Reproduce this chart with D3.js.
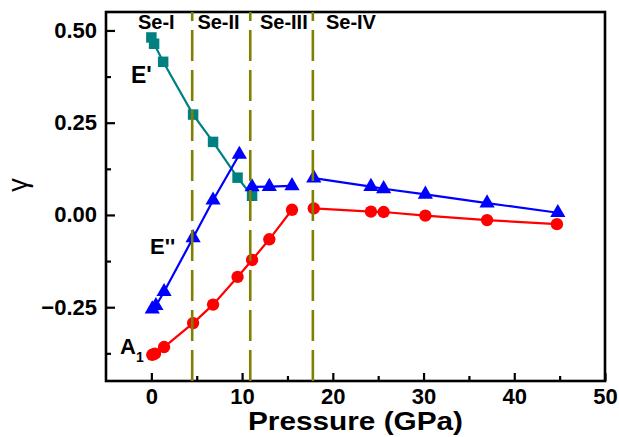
<!DOCTYPE html>
<html>
<head>
<meta charset="utf-8">
<script src="https://cdn.jsdelivr.net/npm/d3@7"></script>
<style>
  html, body { margin: 0; padding: 0; background: #fff; }
  svg { display: block; font-family: Arial, "Liberation Sans", sans-serif; }
</style>
</head>
<body>
<svg id="chart" width="619" height="437"></svg>
<script>
// E' mode (teal squares)
const pressureE1 = [0.0, 0.3, 1.3, 4.6, 6.8, 9.5, 11.1];
const gammaE1 = [0.481, 0.464, 0.415, 0.272, 0.198, 0.101, 0.052];
const segE1 = [0, 0, 0, 0, 0, 0, 0];

// E'' mode (blue triangles)
const pressureE2 = [0.1, 0.5, 1.4, 4.6, 6.8, 9.7, 11.1, 13.0, 15.5, 17.9, 24.2, 25.6, 30.2, 37.0, 44.8];
const gammaE2 = [-0.255, -0.246, -0.208, -0.062, 0.040, 0.164, 0.076, 0.077, 0.079, 0.100, 0.077, 0.071, 0.056, 0.032, 0.006];
const segE2 = [0, 0, 0, 0, 0, 0, 1, 1, 1, 2, 2, 2, 2, 2, 2];

// A1 mode (red circles)
const pressureA1 = [0.1, 0.4, 1.4, 4.6, 6.8, 9.5, 11.1, 13.0, 15.5, 17.9, 24.2, 25.6, 30.2, 37.0, 44.7];
const gammaA1 = [-0.379, -0.376, -0.358, -0.293, -0.243, -0.168, -0.122, -0.066, 0.014, 0.018, 0.009, 0.008, -0.002, -0.014, -0.025];
const segA1 = [0, 0, 0, 0, 0, 0, 0, 0, 0, 1, 1, 1, 1, 1, 1];

// phase boundaries and phase names
const boundaries = [4.5, 10.9, 17.8];
const phaseNames = ['Se-I', 'Se-II', 'Se-III', 'Se-IV'];
const phaseLabelAt = [0.55, 7.4, 14.6, 22.0];

const xTicks = [0, 10, 20, 30, 40, 50];
const xMinor = [5, 15, 25, 35, 45];
const yTicks = [-0.25, 0, 0.25, 0.5];
const yMinor = [-0.375, -0.125, 0.125, 0.375];

const svg = d3.select('#chart');
const m = { left: 106, right: 605, top: 12, bottom: 381 };

const x = d3.scaleLinear().domain([-5, 50]).range([m.left, m.right]);
const y = d3.scaleLinear().domain([-0.45, 0.55]).range([m.bottom, m.top]);

// axes (ticks pointing inward)
svg.append('g').attr('transform', `translate(0,${m.bottom})`)
  .call(d3.axisBottom(x).tickValues(xTicks).tickSize(-8).tickSizeOuter(0).tickPadding(7).tickFormat(d3.format('d')));
svg.append('g').attr('transform', `translate(0,${m.bottom})`)
  .call(d3.axisBottom(x).tickValues(xMinor).tickSize(-5).tickSizeOuter(0).tickFormat(''));
svg.append('g').attr('transform', `translate(${m.left},0)`)
  .call(d3.axisLeft(y).tickValues(yTicks).tickSize(-9).tickSizeOuter(0).tickPadding(9).tickFormat(d3.format('.2f')));
svg.append('g').attr('transform', `translate(${m.left},0)`)
  .call(d3.axisLeft(y).tickValues(yMinor).tickSize(-5).tickSizeOuter(0).tickFormat(''));

svg.selectAll('.domain').remove();
svg.selectAll('.tick line').attr('stroke', '#000').attr('stroke-width', 2.2);
svg.selectAll('.tick text')
  .attr('fill', '#000')
  .attr('font-size', 22)
  .attr('font-weight', 'bold')
  .attr('font-family', 'Arial, "Liberation Sans", sans-serif');

// frame
svg.append('rect')
  .attr('x', m.left).attr('y', m.top)
  .attr('width', m.right - m.left).attr('height', m.bottom - m.top)
  .attr('fill', 'none').attr('stroke', '#000').attr('stroke-width', 2.6);

function drawSeries(px, gy, seg, color, shape, size) {
  const pts = px.map((p, i) => ({ p: p, g: gy[i], s: seg[i] }));
  const groups = d3.groups(pts, d => d.s);
  const line = d3.line().x(d => x(d.p)).y(d => y(d.g));
  svg.append('g').selectAll('path')
    .data(groups)
    .join('path')
    .attr('d', d => line(d[1]))
    .attr('fill', 'none')
    .attr('stroke', color)
    .attr('stroke-width', 2.2);
  svg.append('g').selectAll('path')
    .data(pts)
    .join('path')
    .attr('transform', d => `translate(${x(d.p)},${y(d.g)})`)
    .attr('d', d3.symbol().type(shape).size(size))
    .attr('fill', color);
}

drawSeries(pressureE1, gammaE1, segE1, '#008080', d3.symbolSquare, 110);
drawSeries(pressureE2, gammaE2, segE2, '#0000ff', d3.symbolTriangle, 100);
drawSeries(pressureA1, gammaA1, segA1, '#ff0000', d3.symbolCircle, 120);

// phase boundaries
svg.append('g').selectAll('line')
  .data(boundaries)
  .join('line')
  .attr('x1', d => x(d)).attr('x2', d => x(d))
  .attr('y1', m.bottom).attr('y2', m.top)
  .attr('stroke', '#808000')
  .attr('stroke-width', 2.6)
  .attr('stroke-dasharray', '31,9');

// phase labels
svg.append('g').selectAll('text')
  .data(phaseNames)
  .join('text')
  .attr('x', (d, i) => x(phaseLabelAt[i]))
  .attr('y', 29)
  .attr('text-anchor', 'middle')
  .attr('font-size', 20)
  .attr('font-weight', 'bold')
  .text(d => d);

// mode labels
svg.append('text').attr('x', 131).attr('y', 83)
  .attr('font-size', 23).attr('font-weight', 'bold').text("E'");
svg.append('text').attr('x', 150).attr('y', 254)
  .attr('font-size', 22).attr('font-weight', 'bold').text("E''");
const a1 = svg.append('text').attr('x', 120).attr('y', 354)
  .attr('font-size', 22).attr('font-weight', 'bold');
a1.append('tspan').text('A');
a1.append('tspan').attr('font-size', 14).attr('dy', 8).text('1');

// axis titles
svg.append('text')
  .attr('x', 355.5).attr('y', 430)
  .attr('text-anchor', 'middle')
  .attr('font-size', 25)
  .attr('font-weight', 'bold')
  .attr('textLength', 215)
  .attr('lengthAdjust', 'spacingAndGlyphs')
  .text('Pressure (GPa)');

svg.append('text')
  .attr('transform', 'translate(27,185) rotate(-90)')
  .attr('text-anchor', 'middle')
  .attr('font-size', 27)
  .text('γ');
</script>
</body>
</html>
